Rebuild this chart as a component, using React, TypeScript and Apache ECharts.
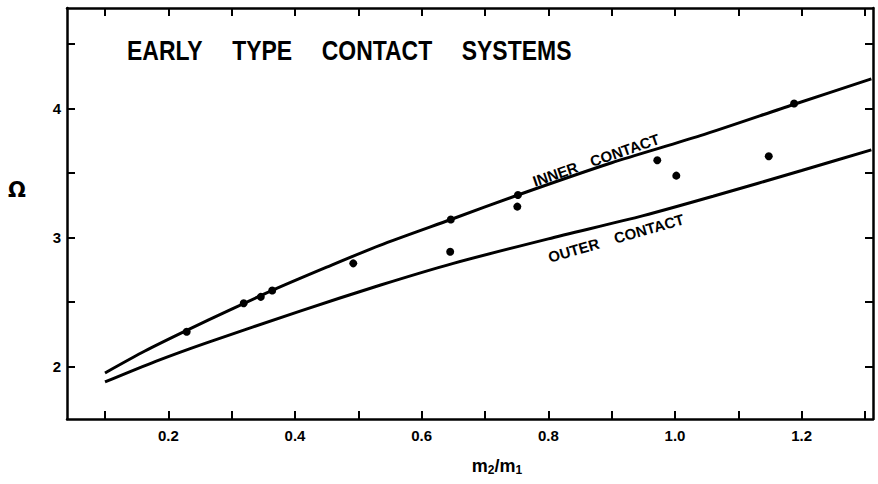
import React, { useEffect, useRef } from "react";
import * as echarts from "echarts";

const innerContact: [number, number][] = [
  [0.1, 1.95], [0.163, 2.12], [0.229, 2.28], [0.3, 2.445], [0.364, 2.59],
  [0.45, 2.77], [0.534, 2.94], [0.646, 3.14], [0.752, 3.33], [0.9, 3.58],
  [1.04, 3.79], [1.186, 4.03], [1.31, 4.23],
];
const outerContact: [number, number][] = [
  [0.1, 1.88], [0.18, 2.04], [0.258, 2.18], [0.408, 2.43], [0.534, 2.63],
  [0.65, 2.8], [0.8, 2.99], [0.95, 3.17], [1.06, 3.32], [1.2, 3.52], [1.31, 3.68],
];
const systems: [number, number][] = [
  [0.229, 2.27], [0.319, 2.49], [0.346, 2.54], [0.364, 2.59], [0.492, 2.8],
  [0.646, 3.14], [0.645, 2.89], [0.752, 3.33], [0.751, 3.24], [0.972, 3.6],
  [1.002, 3.48], [1.148, 3.63], [1.188, 4.04],
];
const xTicks = [0.1, 0.2, 0.3, 0.4, 0.5, 0.6, 0.7, 0.8, 0.9, 1.0, 1.1, 1.2, 1.3];
const xLabels = [0.2, 0.4, 0.6, 0.8, 1.0, 1.2];
const yTicks = [2, 2.5, 3, 3.5, 4, 4.5];
const yLabels = [2, 3, 4];

const X_MIN = 0.04;
const X_MAX = 1.3126;
const Y_MIN = 1.593;
const Y_MAX = 4.78;

const FONT = "Liberation Sans, Arial, sans-serif";

export default function App() {
  const ref = useRef<HTMLDivElement>(null);
  useEffect(() => {
    if (!ref.current) return;
    const chart = echarts.init(ref.current, undefined, { renderer: "svg" });
    const axisLine = { show: true, lineStyle: { color: "#000", width: 2.5 } };
    const tick = (vals: number[]) => ({
      show: true,
      inside: true,
      length: 8,
      customValues: vals,
      lineStyle: { color: "#000", width: 2 },
    });
    const label = (vals: number[], fmt: (v: number) => string, margin: number) => ({
      show: true,
      customValues: vals,
      formatter: (v: number) => fmt(v),
      color: "#000",
      fontFamily: FONT,
      fontWeight: "bold" as const,
      fontSize: 15,
      margin,
    });
    chart.setOption({
      animation: false,
      backgroundColor: "#fff",
      grid: { left: 67, right: 5, top: 8, bottom: 65 },
      xAxis: [
        {
          type: "value", position: "bottom", min: X_MIN, max: X_MAX,
          axisLine, axisTick: tick(xTicks), splitLine: { show: false },
          axisLabel: label(xLabels, (v) => v.toFixed(1), 9),
        },
        {
          type: "value", position: "top", min: X_MIN, max: X_MAX,
          axisLine, axisTick: tick(xTicks), splitLine: { show: false },
          axisLabel: { show: false },
        },
      ],
      yAxis: [
        {
          type: "value", position: "left", min: Y_MIN, max: Y_MAX,
          axisLine, axisTick: tick(yTicks), splitLine: { show: false },
          axisLabel: label(yLabels, (v) => String(Math.round(v)), 6),
        },
        {
          type: "value", position: "right", min: Y_MIN, max: Y_MAX,
          axisLine, axisTick: tick(yTicks), splitLine: { show: false },
          axisLabel: { show: false },
        },
      ],
      series: [
        {
          name: "Inner contact", type: "line", data: innerContact,
          showSymbol: false, smooth: 0.25,
          lineStyle: { color: "#000", width: 3 },
        },
        {
          name: "Outer contact", type: "line", data: outerContact,
          showSymbol: false, smooth: 0.25,
          lineStyle: { color: "#000", width: 3 },
        },
        {
          name: "Systems", type: "scatter", data: systems,
          symbol: "circle", symbolSize: 8,
          itemStyle: { color: "#000", opacity: 1 }, z: 5,
        },
      ],
      graphic: [
        {
          type: "text", x: 127, y: 50, scaleX: 0.82,
          style: {
            text: "EARLY{g| }TYPE{g| }CONTACT{g| }SYSTEMS",
            font: `bold 28px ${FONT}`, fill: "#000",
            align: "left", verticalAlign: "middle",
            rich: { g: { width: 36, font: `bold 28px ${FONT}` } },
          },
        },
        {
          type: "text", x: 596, y: 160, rotation: (19 * Math.PI) / 180,
          style: {
            text: "INNER{g| }CONTACT",
            font: `bold 15px ${FONT}`, fill: "#000",
            align: "center", verticalAlign: "middle",
            rich: { g: { width: 14, font: `bold 15px ${FONT}` } },
          },
        },
        {
          type: "text", x: 616, y: 238, rotation: (16 * Math.PI) / 180,
          style: {
            text: "OUTER{g| }CONTACT",
            font: `bold 15px ${FONT}`, fill: "#000",
            align: "center", verticalAlign: "middle",
            rich: { g: { width: 16, font: `bold 15px ${FONT}` } },
          },
        },
        {
          type: "text", x: 17, y: 190,
          style: {
            text: "Ω", font: `bold 21px DejaVu Sans, sans-serif`, fill: "#000",
            align: "center", verticalAlign: "middle",
          },
        },
        {
          type: "text", x: 497, y: 466,
          style: {
            text: "m{s|2}/m{s|1}",
            font: `bold 18px ${FONT}`, fill: "#000",
            align: "center", verticalAlign: "middle",
            rich: { s: { font: `bold 12px ${FONT}`, verticalAlign: "bottom", padding: [8, 0, 0, 0] } },
          },
        },
      ],
    });
    return () => chart.dispose();
  }, []);
  return (
    <div
      ref={ref}
      style={{ position: "fixed", left: 0, top: 0, width: 878, height: 484, background: "#fff" }}
    />
  );
}
